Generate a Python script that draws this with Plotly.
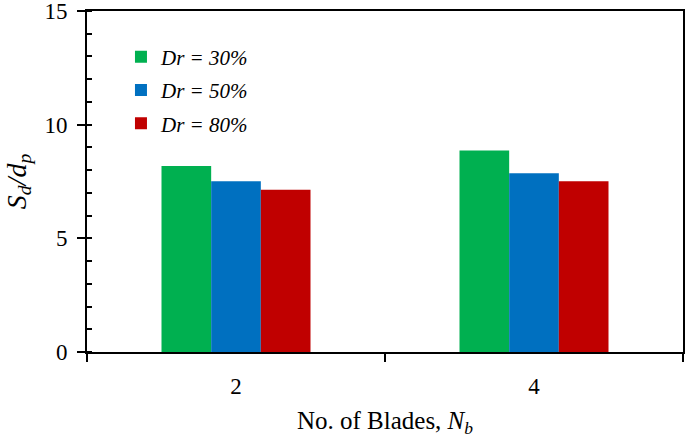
import plotly.graph_objects as go

categories = ["2", "4"]
series_names = ["Dr = 30%", "Dr = 50%", "Dr = 80%"]
dr30 = [8.18, 8.86]
dr50 = [7.51, 7.86]
dr80 = [7.14, 7.51]
colors = ["#00B050", "#0070C0", "#C00000"]

fig = go.Figure()
for i, (name, vals) in enumerate(zip(series_names, [dr30, dr50, dr80])):
    fig.add_trace(go.Bar(
        x=categories, y=vals, name="<i>" + name + "</i>",
        marker=dict(color=colors[i], line=dict(width=0)),
        legendgroup=str(i),
    ))

serif = "Liberation Serif, Times New Roman, serif"
fig.update_layout(
    width=685, height=439,
    margin=dict(l=87, r=2, t=11, b=87),
    paper_bgcolor="white", plot_bgcolor="white",
    barmode="group", bargap=0.5, bargroupgap=0,
    font=dict(family=serif, color="black", size=22),
    showlegend=True,
    legend=dict(x=0.057, y=0.925, xanchor="left", yanchor="top",
                font=dict(family=serif, size=21, color="black"),
                bgcolor="rgba(0,0,0,0)", tracegroupgap=3),
    xaxis=dict(
        type="category", showline=True, linecolor="black", linewidth=2,
        mirror=True, ticks="outside", tickson="boundaries", ticklen=8,
        tickwidth=2, tickcolor="black", ticklabelstandoff=12,
        tickfont=dict(size=23), automargin=False,
        title=dict(text="No. of Blades, <i>N<sub>b</sub></i>", font=dict(size=25), standoff=14),
        showgrid=False,
    ),
    yaxis=dict(
        range=[0, 15], dtick=5, tick0=0, showline=True, linecolor="black",
        linewidth=2, mirror=True, ticks="outside", ticklen=8, tickwidth=2,
        tickcolor="black", ticklabelstandoff=5, automargin=False,
        ticklabeloverflow="allow",
        minor=dict(dtick=1, ticks="inside", ticklen=5, tickwidth=2, tickcolor="black", showgrid=False),
        showgrid=False, zeroline=False, tickfont=dict(size=23),
        title=dict(text="<i>S<sub>d</sub>/d<sub>p</sub></i>", font=dict(size=28), standoff=10),
    ),
)

fig.write_html("out.html", config={"displayModeBar": False},
               post_script="document.body.style.margin='0';document.body.style.padding='0';")
